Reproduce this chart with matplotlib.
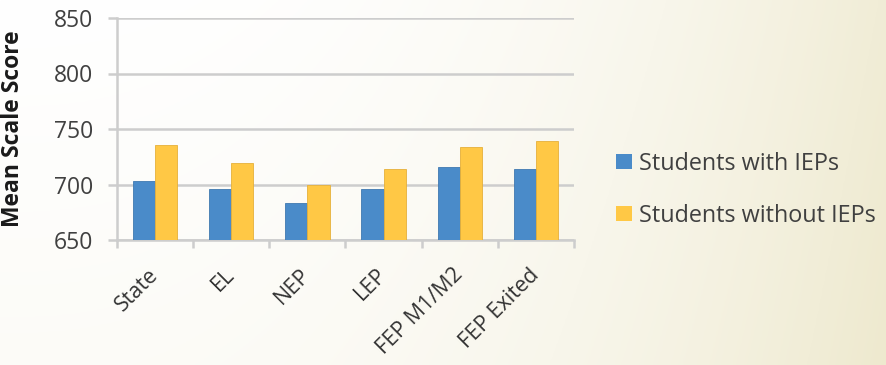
import numpy as np
import matplotlib
matplotlib.use("Agg")
import matplotlib.pyplot as plt
from matplotlib.patches import Patch

categories = ["State", "EL", "NEP", "LEP", "FEP M1/M2", "FEP Exited"]
with_ieps = [703, 696, 683, 696, 716, 714]
without_ieps = [736, 719, 700, 714, 734, 739]
series_names = ["Students with IEPs", "Students without IEPs"]

plt.rcParams['font.family'] = ['Open Sans', 'DejaVu Sans']

fig = plt.figure(figsize=(8.87, 3.65), dpi=100)

# background gradient
bg = fig.add_axes([0, 0, 1, 1], zorder=-10)
xs = np.linspace(0, 1, 300)
ys = np.linspace(0, 1, 150)
X, Y = np.meshgrid(xs, ys)
t = np.clip(0.8 * X ** 2.5 + 0.15 * Y, 0, 1)
c0 = np.array([1.0, 1.0, 1.0])
c1 = np.array([0.93, 0.91, 0.80])
img = c0[None, None, :] * (1 - t[..., None]) + c1[None, None, :] * t[..., None]
bg.imshow(img, aspect='auto', extent=[0, 1, 0, 1], origin='upper')
bg.axis('off')

ax = fig.add_axes([117 / 887, 1 - 240 / 365, 457 / 887, 222 / 365])
ax.patch.set_alpha(0)
x = np.arange(len(categories))
w = 0.29
ax.bar(x - w / 2, np.array(with_ieps) - 650, w, bottom=650, color='#4a8bc9',
       edgecolor='#3f79b0', linewidth=0.6, label=series_names[0], zorder=3)
ax.bar(x + w / 2, np.array(without_ieps) - 650, w, bottom=650, color='#ffc845',
       edgecolor='#e6b03a', linewidth=0.6, label=series_names[1], zorder=3)

gc = '#cdcdcd'
ax.set_xlim(-0.5, len(categories) - 0.5)
ax.set_ylim(650, 850)
ax.set_yticks([650, 700, 750, 800, 850])
ax.yaxis.grid(True, color=gc, linewidth=1.8, zorder=0)
ax.set_axisbelow(True)
for s in ['top', 'right']:
    ax.spines[s].set_visible(False)
for s in ['left', 'bottom']:
    ax.spines[s].set_color(gc)
    ax.spines[s].set_linewidth(1.8)
ax.tick_params(axis='y', length=6.5, width=1.8, color=gc, labelsize=16.5,
               labelcolor='#404040', pad=10.5)
ax.set_xticks(x)
ax.set_xticklabels(categories, rotation=45, ha='right', va='center',
                   rotation_mode='anchor', fontsize=15.5, color='#333333')
ax.tick_params(axis='x', which='major', length=0, pad=23)
ax.set_xticks(np.arange(-0.5, len(categories)), minor=True)
ax.tick_params(axis='x', which='minor', length=5.8, width=1.8, color=gc)
ax.set_ylabel('Mean Scale Score', fontsize=16.5, fontweight='bold',
              color='#1a1a1a')
ax.yaxis.set_label_coords(-0.201, 0.5)

handles = [Patch(facecolor='#4a8bc9'), Patch(facecolor='#ffc845')]
fig.legend(handles, series_names, loc='center left',
           bbox_to_anchor=(616 / 887, 1 - 190 / 365),
           frameon=False, fontsize=16.8, handlelength=0.68, handleheight=0.62,
           handletextpad=0.3, labelspacing=1.2, borderpad=0,
           borderaxespad=0, labelcolor='#404040')

fig.savefig('out.png', dpi=100)
